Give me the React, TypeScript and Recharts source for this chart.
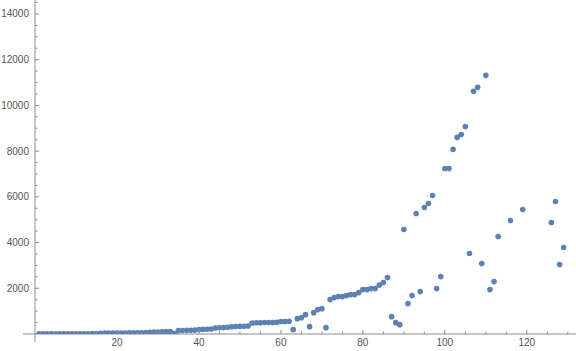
import React from 'react';
import { ScatterChart, Scatter, XAxis, YAxis } from 'recharts';

const xValues = [
  1, 2, 3, 4, 5, 6, 7, 8, 9, 10, 11, 12, 13, 14, 15,
  16, 17, 18, 19, 20, 21, 22, 23, 24, 25, 26, 27,
  28, 29, 30, 31, 32, 33, 34,
  35, 36, 37, 38, 39, 40, 41, 42, 43,
  44, 45, 46, 47, 48, 49, 50, 51, 52,
  53, 54, 55, 56, 57, 58, 59, 60, 61, 62, 63,
  64, 65, 66, 67, 68, 69, 70, 71, 72, 73, 74, 75, 76, 77, 78, 79, 80,
  81, 82, 83, 84, 85, 86, 87, 88, 89, 90, 91, 92, 93, 94, 95, 96, 97,
  98, 99, 100, 101, 102, 103, 104, 105, 106, 107, 108, 109, 110,
  111, 112, 113, 116, 119, 126, 127, 128, 129,
];

const yValues = [
  5, 5, 6, 7, 8, 8, 9, 10, 10, 11, 12, 13, 14, 15, 16,
  35, 38, 40, 42, 43, 45, 46, 48, 50, 52, 55, 58,
  75, 85, 90, 100, 105, 110, 15,
  150, 155, 160, 165, 170, 200, 205, 210, 220,
  265, 270, 280, 290, 320, 330, 335, 340, 345,
  480, 490, 495, 500, 500, 505, 510, 545, 550, 555, 190,
  672, 716, 847, 322, 935, 1067, 1110, 278, 1505, 1593, 1636, 1636, 1680, 1724, 1724, 1812, 1943,
  1943, 1986, 1986, 2140, 2250, 2468, 760, 497, 410, 4570, 1330, 1680, 5270, 1855, 5534, 5709, 6060,
  1986, 2512, 7240, 7240, 8075, 8600, 8730, 9080, 3520, 10615, 10790, 3080, 11315,
  1943, 2293, 4264, 4965, 5446, 4877, 5797, 3038, 3782,
];

const xTicks = [5, 10, 15, 20, 25, 30, 35, 40, 45, 50, 55, 60, 65, 70, 75, 80, 85, 90, 95, 100, 105, 110, 115, 120, 125, 130];
const xMajor = [20, 40, 60, 80, 100, 120];
const yTicks = [0, 500, 1000, 1500, 2000, 2500, 3000, 3500, 4000, 4500, 5000, 5500, 6000, 6500, 7000, 7500, 8000, 8500, 9000, 9500, 10000, 10500, 11000, 11500, 12000, 12500, 13000, 13500, 14000, 14500];
const yMajor = [2000, 4000, 6000, 8000, 10000, 12000, 14000];

const data = xValues.map((x, i) => ({ x, y: yValues[i] }));

const AXIS = '#8c8c8c';
const LABEL = '#555555';
const DOT = '#5E81B5';
const FONT = '"Liberation Sans", Arial, sans-serif';

const XTick = (props: any) => {
  const { x, y, payload } = props;
  const major = xMajor.includes(payload.value);
  return (
    <g>
      <line x1={x} y1={y} x2={x} y2={y - (major ? 4 : 2.5)} stroke={AXIS} strokeWidth={1} />
      {major && (
        <text x={x} y={y + 11.5} textAnchor="middle" fontSize={10} fill={LABEL} fontFamily={FONT}>
          {payload.value}
        </text>
      )}
    </g>
  );
};

const YTick = (props: any) => {
  const { x, y, payload } = props;
  if (Number(payload.value) === 0) {
    // axis lines continue a little past the origin, as in the reference
    return (
      <g>
        <line x1={x - 12} y1={y} x2={x} y2={y} stroke={AXIS} strokeWidth={1} />
        <line x1={x} y1={y} x2={x} y2={y + 8} stroke={AXIS} strokeWidth={1} />
      </g>
    );
  }
  const major = yMajor.includes(payload.value);
  return (
    <g>
      <line x1={x} y1={y} x2={x + (major ? 4 : 2.5)} y2={y} stroke={AXIS} strokeWidth={1} />
      {major && (
        <text x={x - 6} y={y + 3.5} textAnchor="end" fontSize={10} fill={LABEL} fontFamily={FONT}>
          {payload.value}
        </text>
      )}
    </g>
  );
};

const Dot = (props: any) => <circle cx={props.cx} cy={props.cy} r={2.8} fill={DOT} />;

export default function App() {
  return (
    <div style={{ position: 'absolute', left: 0, top: 0, background: '#fff' }}>
      <ScatterChart width={576} height={351} margin={{ top: 0, right: 0, bottom: 0, left: 0 }}>
        <XAxis
          type="number"
          dataKey="x"
          domain={[0, 132]}
          ticks={xTicks}
          interval={0}
          tickSize={0}
          tickMargin={0}
          height={17}
          axisLine={{ stroke: AXIS }}
          tickLine={false}
          tick={<XTick />}
          allowDataOverflow
        />
        <YAxis
          type="number"
          dataKey="y"
          domain={[0, 14612]}
          ticks={yTicks}
          interval={0}
          tickSize={0}
          tickMargin={0}
          width={35}
          axisLine={{ stroke: AXIS }}
          tickLine={false}
          tick={<YTick />}
          allowDataOverflow
        />
        <Scatter data={data} shape={<Dot />} isAnimationActive={false} />
      </ScatterChart>
    </div>
  );
}
